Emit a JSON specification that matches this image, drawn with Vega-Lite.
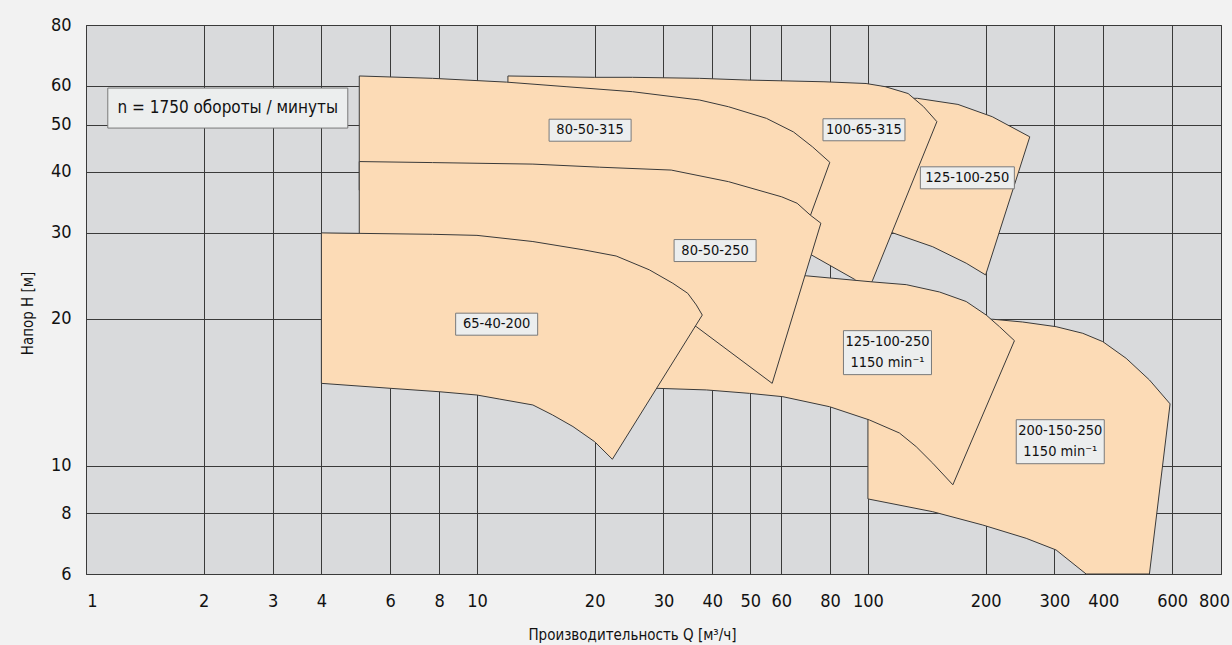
{
  "$schema": "https://vega.github.io/schema/vega-lite/v6.json",
  "width": 1135,
  "height": 549,
  "autosize": {"type": "none"},
  "padding": {"left": 86, "top": 25, "right": 11, "bottom": 71},
  "background": "#f2f2f2",
  "config": {
    "font": "Liberation Sans Narrow, DejaVu Sans Condensed, sans-serif",
    "view": {"fill": "#d9dadc", "stroke": "#3a3a3a", "strokeWidth": 1}
  },
  "datasets": {
    "polys": [
      {"pump": "65-40-200", "i": 0, "q": 4, "h": 30},
      {"pump": "65-40-200", "i": 1, "q": 7.7, "h": 29.8},
      {"pump": "65-40-200", "i": 2, "q": 10, "h": 29.65},
      {"pump": "65-40-200", "i": 3, "q": 13.9, "h": 28.8},
      {"pump": "65-40-200", "i": 4, "q": 18.7, "h": 27.7},
      {"pump": "65-40-200", "i": 5, "q": 22.7, "h": 26.9},
      {"pump": "65-40-200", "i": 6, "q": 27.6, "h": 25.2},
      {"pump": "65-40-200", "i": 7, "q": 31.7, "h": 23.65},
      {"pump": "65-40-200", "i": 8, "q": 34.6, "h": 22.56},
      {"pump": "65-40-200", "i": 9, "q": 36.4, "h": 21.35},
      {"pump": "65-40-200", "i": 10, "q": 37.7, "h": 20.36},
      {"pump": "65-40-200", "i": 11, "q": 22.2, "h": 10.31},
      {"pump": "65-40-200", "i": 12, "q": 20, "h": 11.2},
      {"pump": "65-40-200", "i": 13, "q": 17.6, "h": 12.03},
      {"pump": "65-40-200", "i": 14, "q": 15.6, "h": 12.71},
      {"pump": "65-40-200", "i": 15, "q": 13.9, "h": 13.32},
      {"pump": "65-40-200", "i": 16, "q": 11.4, "h": 13.7},
      {"pump": "65-40-200", "i": 17, "q": 10, "h": 13.96},
      {"pump": "65-40-200", "i": 18, "q": 8, "h": 14.18},
      {"pump": "65-40-200", "i": 19, "q": 6, "h": 14.41},
      {"pump": "65-40-200", "i": 20, "q": 4, "h": 14.75},
      {"pump": "65-40-200", "i": 21, "q": 4, "h": 30},

      {"pump": "80-50-250", "i": 0, "q": 5, "h": 42},
      {"pump": "80-50-250", "i": 1, "q": 7.7, "h": 41.8},
      {"pump": "80-50-250", "i": 2, "q": 13.9, "h": 41.5},
      {"pump": "80-50-250", "i": 3, "q": 20.6, "h": 40.9},
      {"pump": "80-50-250", "i": 4, "q": 31.4, "h": 40.35},
      {"pump": "80-50-250", "i": 5, "q": 44, "h": 38.2},
      {"pump": "80-50-250", "i": 6, "q": 60.2, "h": 35.56},
      {"pump": "80-50-250", "i": 7, "q": 65.9, "h": 34.5},
      {"pump": "80-50-250", "i": 8, "q": 71.3, "h": 32.6},
      {"pump": "80-50-250", "i": 9, "q": 75.8, "h": 31.4},
      {"pump": "80-50-250", "i": 10, "q": 56.9, "h": 14.75},
      {"pump": "80-50-250", "i": 11, "q": 36.4, "h": 19.27},
      {"pump": "80-50-250", "i": 12, "q": 20.6, "h": 21.35},
      {"pump": "80-50-250", "i": 13, "q": 10, "h": 22.4},
      {"pump": "80-50-250", "i": 14, "q": 5, "h": 22.9},
      {"pump": "80-50-250", "i": 15, "q": 5, "h": 42},

      {"pump": "80-50-315", "i": 0, "q": 5, "h": 62.9},
      {"pump": "80-50-315", "i": 1, "q": 7.7, "h": 62.2},
      {"pump": "80-50-315", "i": 2, "q": 11.9, "h": 61.1},
      {"pump": "80-50-315", "i": 3, "q": 16.9, "h": 59.8},
      {"pump": "80-50-315", "i": 4, "q": 25, "h": 58.4},
      {"pump": "80-50-315", "i": 5, "q": 37.1, "h": 56.15},
      {"pump": "80-50-315", "i": 6, "q": 44, "h": 54.4},
      {"pump": "80-50-315", "i": 7, "q": 55, "h": 51.5},
      {"pump": "80-50-315", "i": 8, "q": 64.5, "h": 48.3},
      {"pump": "80-50-315", "i": 9, "q": 72.2, "h": 45},
      {"pump": "80-50-315", "i": 10, "q": 79.9, "h": 41.85},
      {"pump": "80-50-315", "i": 11, "q": 71.3, "h": 32.6},
      {"pump": "80-50-315", "i": 12, "q": 66.9, "h": 28.3},
      {"pump": "80-50-315", "i": 13, "q": 20.6, "h": 32.6},
      {"pump": "80-50-315", "i": 14, "q": 6.3, "h": 35},
      {"pump": "80-50-315", "i": 15, "q": 5, "h": 36.7},
      {"pump": "80-50-315", "i": 16, "q": 5, "h": 62.9},

      {"pump": "100-65-315", "i": 0, "q": 12, "h": 62.9},
      {"pump": "100-65-315", "i": 1, "q": 20, "h": 62.5},
      {"pump": "100-65-315", "i": 2, "q": 25, "h": 62.5},
      {"pump": "100-65-315", "i": 3, "q": 37.1, "h": 62.2},
      {"pump": "100-65-315", "i": 4, "q": 49.2, "h": 61.7},
      {"pump": "100-65-315", "i": 5, "q": 77.2, "h": 61.2},
      {"pump": "100-65-315", "i": 6, "q": 98.9, "h": 60.7},
      {"pump": "100-65-315", "i": 7, "q": 110.7, "h": 59.8},
      {"pump": "100-65-315", "i": 8, "q": 126.7, "h": 57.9},
      {"pump": "100-65-315", "i": 9, "q": 138.8, "h": 54.4},
      {"pump": "100-65-315", "i": 10, "q": 150.1, "h": 50.7},
      {"pump": "100-65-315", "i": 11, "q": 102.8, "h": 24},
      {"pump": "100-65-315", "i": 12, "q": 99.8, "h": 22.8},
      {"pump": "100-65-315", "i": 13, "q": 92.4, "h": 24.1},
      {"pump": "100-65-315", "i": 14, "q": 71.9, "h": 27},
      {"pump": "100-65-315", "i": 15, "q": 63, "h": 28.6},
      {"pump": "100-65-315", "i": 16, "q": 37.1, "h": 32.6},
      {"pump": "100-65-315", "i": 17, "q": 12, "h": 37.6},
      {"pump": "100-65-315", "i": 18, "q": 12, "h": 62.9},

      {"pump": "125-100-250", "i": 0, "q": 107, "h": 56.7},
      {"pump": "125-100-250", "i": 1, "q": 133.9, "h": 56.6},
      {"pump": "125-100-250", "i": 2, "q": 169.9, "h": 55},
      {"pump": "125-100-250", "i": 3, "q": 208, "h": 51.9},
      {"pump": "125-100-250", "i": 4, "q": 259.4, "h": 47.2},
      {"pump": "125-100-250", "i": 5, "q": 200, "h": 24.6},
      {"pump": "125-100-250", "i": 6, "q": 178.4, "h": 26},
      {"pump": "125-100-250", "i": 7, "q": 146.5, "h": 28.1},
      {"pump": "125-100-250", "i": 8, "q": 115.8, "h": 30},
      {"pump": "125-100-250", "i": 9, "q": 107, "h": 30.7},
      {"pump": "125-100-250", "i": 10, "q": 107, "h": 56.7},

      {"pump": "125-100-250 1150", "i": 0, "q": 37.1, "h": 24.9},
      {"pump": "125-100-250 1150", "i": 1, "q": 69.5, "h": 24.5},
      {"pump": "125-100-250 1150", "i": 2, "q": 102.9, "h": 23.8},
      {"pump": "125-100-250 1150", "i": 3, "q": 125.3, "h": 23.5},
      {"pump": "125-100-250 1150", "i": 4, "q": 152.4, "h": 22.7},
      {"pump": "125-100-250 1150", "i": 5, "q": 178.4, "h": 21.7},
      {"pump": "125-100-250 1150", "i": 6, "q": 200.7, "h": 20.36},
      {"pump": "125-100-250 1150", "i": 7, "q": 217, "h": 19.27},
      {"pump": "125-100-250 1150", "i": 8, "q": 237, "h": 18.04},
      {"pump": "125-100-250 1150", "i": 9, "q": 164.9, "h": 9.14},
      {"pump": "125-100-250 1150", "i": 10, "q": 146.5, "h": 10.12},
      {"pump": "125-100-250 1150", "i": 11, "q": 132.9, "h": 10.94},
      {"pump": "125-100-250 1150", "i": 12, "q": 120.4, "h": 11.67},
      {"pump": "125-100-250 1150", "i": 13, "q": 100.9, "h": 12.41},
      {"pump": "125-100-250 1150", "i": 14, "q": 79.8, "h": 13.21},
      {"pump": "125-100-250 1150", "i": 15, "q": 60.6, "h": 13.85},
      {"pump": "125-100-250 1150", "i": 16, "q": 49.8, "h": 14.07},
      {"pump": "125-100-250 1150", "i": 17, "q": 38.6, "h": 14.3},
      {"pump": "125-100-250 1150", "i": 18, "q": 28.8, "h": 14.41},
      {"pump": "125-100-250 1150", "i": 19, "q": 26.1, "h": 14.5},
      {"pump": "125-100-250 1150", "i": 20, "q": 37.1, "h": 24.9},

      {"pump": "200-150-250 1150", "i": 0, "q": 100, "h": 20},
      {"pump": "200-150-250 1150", "i": 1, "q": 208.6, "h": 19.96},
      {"pump": "200-150-250 1150", "i": 2, "q": 248.9, "h": 19.7},
      {"pump": "200-150-250 1150", "i": 3, "q": 302.9, "h": 19.27},
      {"pump": "200-150-250 1150", "i": 4, "q": 354.4, "h": 18.68},
      {"pump": "200-150-250 1150", "i": 5, "q": 398.7, "h": 17.96},
      {"pump": "200-150-250 1150", "i": 6, "q": 457.6, "h": 16.6},
      {"pump": "200-150-250 1150", "i": 7, "q": 524.8, "h": 14.99},
      {"pump": "200-150-250 1150", "i": 8, "q": 592.7, "h": 13.39},
      {"pump": "200-150-250 1150", "i": 9, "q": 524.8, "h": 6},
      {"pump": "200-150-250 1150", "i": 10, "q": 361.5, "h": 6},
      {"pump": "200-150-250 1150", "i": 11, "q": 302.9, "h": 6.72},
      {"pump": "200-150-250 1150", "i": 12, "q": 254, "h": 7.1},
      {"pump": "200-150-250 1150", "i": 13, "q": 196.7, "h": 7.56},
      {"pump": "200-150-250 1150", "i": 14, "q": 146.5, "h": 8.05},
      {"pump": "200-150-250 1150", "i": 15, "q": 100, "h": 8.55},
      {"pump": "200-150-250 1150", "i": 16, "q": 100, "h": 20}
    ],
    "labels": [
      {"label": "n = 1750 обороты / минуты", "kind": "title", "q": 2.305, "h": 54.06},
      {"label": "80-50-315", "kind": "short", "q": 19.47, "h": 48.7},
      {"label": "100-65-315", "kind": "short", "q": 97.7, "h": 48.8},
      {"label": "125-100-250", "kind": "wide", "q": 179.6, "h": 38.9},
      {"label": "80-50-250", "kind": "short", "q": 40.65, "h": 27.6},
      {"label": "65-40-200", "kind": "short", "q": 11.23, "h": 19.5},
      {"label": "125-100-250\n1150 min⁻¹", "kind": "double", "q": 112.2, "h": 17.05},
      {"label": "200-150-250\n1150 min⁻¹", "kind": "double", "q": 310.4, "h": 11.2}
    ]
  },
  "encoding": {
    "x": {
      "field": "q",
      "type": "quantitative",
      "scale": {"type": "log", "domain": [1, 800], "nice": false},
      "axis": {
        "values": [1, 2, 3, 4, 6, 8, 10, 20, 30, 40, 50, 60, 80, 100, 200, 300, 400, 600, 800],
        "format": "d",
        "grid": true,
        "gridColor": "#3a3a3a",
        "gridWidth": 1,
        "ticks": false,
        "domain": false,
        "labelPadding": 18,
        "labelFontSize": 18,
        "labelColor": "#111111",
        "labelOverlap": false,
        "labelFlush": false,
        "labelBound": false,
        "labelOffset": {"condition": [{"test": "datum.value == 1", "value": 6}, {"test": "datum.value == 800", "value": -7}], "value": 0},
        "title": "Производительность Q [м³/ч]",
        "titleFontSize": 15,
        "titleFontWeight": "normal",
        "titleColor": "#111111",
        "titleX": 546,
        "titleY": 53,
        "titleAlign": "center",
        "titleBaseline": "top"
      }
    },
    "y": {
      "field": "h",
      "type": "quantitative",
      "scale": {"type": "log", "domain": [6, 80], "nice": false},
      "axis": {
        "values": [6, 8, 10, 20, 30, 40, 50, 60, 80],
        "format": "d",
        "grid": true,
        "gridColor": "#3a3a3a",
        "gridWidth": 1,
        "ticks": false,
        "domain": false,
        "labelPadding": 15,
        "labelFontSize": 18,
        "labelColor": "#111111",
        "labelOverlap": false,
        "labelFlush": false,
        "labelBound": false,
        "title": "Напор H [м]",
        "titleFontSize": 15,
        "titleFontWeight": "normal",
        "titleColor": "#111111",
        "titleX": -58.5,
        "titleY": 288,
        "titleAngle": 270,
        "titleAlign": "center",
        "titleBaseline": "middle"
      }
    }
  },
  "layer": [
    {"data": {"name": "polys"}, "transform": [{"filter": "datum.pump === '125-100-250'"}],
     "mark": {"type": "line", "fill": "#fcdbb6", "stroke": "#3a3a3a", "strokeWidth": 1, "strokeJoin": "miter"},
     "encoding": {"order": {"field": "i", "type": "quantitative"}}},
    {"data": {"name": "polys"}, "transform": [{"filter": "datum.pump === '100-65-315'"}],
     "mark": {"type": "line", "fill": "#fcdbb6", "stroke": "#3a3a3a", "strokeWidth": 1, "strokeJoin": "miter"},
     "encoding": {"order": {"field": "i", "type": "quantitative"}}},
    {"data": {"name": "polys"}, "transform": [{"filter": "datum.pump === '200-150-250 1150'"}],
     "mark": {"type": "line", "fill": "#fcdbb6", "stroke": "#3a3a3a", "strokeWidth": 1, "strokeJoin": "miter"},
     "encoding": {"order": {"field": "i", "type": "quantitative"}}},
    {"data": {"name": "polys"}, "transform": [{"filter": "datum.pump === '80-50-315'"}],
     "mark": {"type": "line", "fill": "#fcdbb6", "stroke": "#3a3a3a", "strokeWidth": 1, "strokeJoin": "miter"},
     "encoding": {"order": {"field": "i", "type": "quantitative"}}},
    {"data": {"name": "polys"}, "transform": [{"filter": "datum.pump === '125-100-250 1150'"}],
     "mark": {"type": "line", "fill": "#fcdbb6", "stroke": "#3a3a3a", "strokeWidth": 1, "strokeJoin": "miter"},
     "encoding": {"order": {"field": "i", "type": "quantitative"}}},
    {"data": {"name": "polys"}, "transform": [{"filter": "datum.pump === '80-50-250'"}],
     "mark": {"type": "line", "fill": "#fcdbb6", "stroke": "#3a3a3a", "strokeWidth": 1, "strokeJoin": "miter"},
     "encoding": {"order": {"field": "i", "type": "quantitative"}}},
    {"data": {"name": "polys"}, "transform": [{"filter": "datum.pump === '65-40-200'"}],
     "mark": {"type": "line", "fill": "#fcdbb6", "stroke": "#3a3a3a", "strokeWidth": 1, "strokeJoin": "miter"},
     "encoding": {"order": {"field": "i", "type": "quantitative"}}},
    {"data": {"name": "labels"},
     "mark": {"type": "point", "filled": true, "fill": "#eceeee", "stroke": "#7a7a7a", "strokeWidth": 1, "opacity": 1, "fillOpacity": 1, "size": 57600},
     "encoding": {
       "shape": {"field": "kind", "type": "nominal", "legend": null,
         "scale": {"domain": ["title", "short", "wide", "double"],
           "range": ["M-1,-0.1667H1V0.1667H-1Z", "M-0.3417,-0.0917H0.3417V0.0917H-0.3417Z", "M-0.3917,-0.0917H0.3917V0.0917H-0.3917Z", "M-0.3667,-0.1833H0.3667V0.1833H-0.3667Z"]}}
     }},
    {"data": {"name": "labels"}, "transform": [{"filter": "datum.kind === 'title'"}],
     "mark": {"type": "text", "fontSize": 17, "color": "#111111", "align": "center", "baseline": "middle"},
     "encoding": {"text": {"field": "label", "type": "nominal"}}},
    {"data": {"name": "labels"}, "transform": [{"filter": "datum.kind === 'short' || datum.kind === 'wide'"}],
     "mark": {"type": "text", "fontSize": 14.5, "color": "#111111", "align": "center", "baseline": "middle"},
     "encoding": {"text": {"field": "label", "type": "nominal"}}},
    {"data": {"name": "labels"}, "transform": [{"filter": "datum.kind === 'double'"}],
     "mark": {"type": "text", "fontSize": 14.5, "color": "#111111", "align": "center", "baseline": "middle", "lineBreak": "\n", "lineHeight": 21, "dy": -10.5},
     "encoding": {"text": {"field": "label", "type": "nominal"}}}
  ]
}
